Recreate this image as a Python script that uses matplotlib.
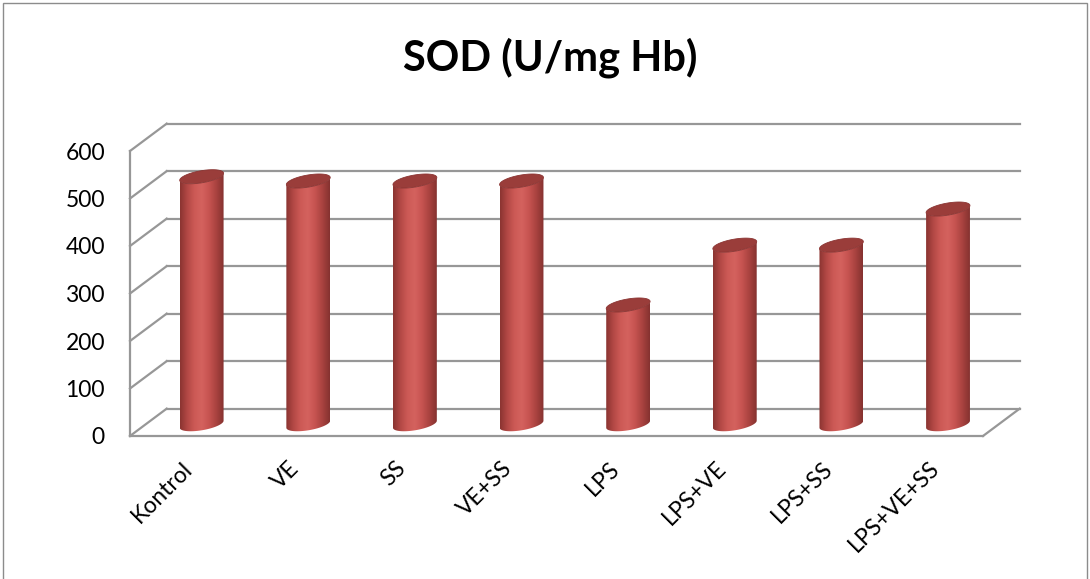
import numpy as np
import matplotlib
matplotlib.use('Agg')
import matplotlib.pyplot as plt
import matplotlib.transforms as mtransforms
from matplotlib.patches import Polygon, Rectangle
from matplotlib.colors import LinearSegmentedColormap

# Data
categories = ['Kontrol', 'VE', 'SS', 'VE+SS', 'LPS', 'LPS+VE', 'LPS+SS', 'LPS+VE+SS']
sod_values = [517, 508, 508, 508, 247, 373, 373, 449]
y_ticks = [0, 100, 200, 300, 400, 500, 600]

# 3D look: depth offset of the back wall (x in category units, y in value units)
DEPTH_X = 0.344
DEPTH_Y = 57.6
CYL_A = 0.178      # half width of the end ellipse along x
CYL_SKEW = 0.103   # x shift of the ellipse's back point
CYL_D = 14.8       # half height of the end ellipse (value units)
GRID_COLOR = '#979797'

plt.rcParams['font.family'] = ['Lato', 'DejaVu Sans']

bar_cmap = LinearSegmentedColormap.from_list(
    'cyl', ['#8a3431', '#b34845', '#cd5a56', '#d4625e', '#c65350', '#a8423f', '#853230'])


def ellipse_pts(xc, v, t):
    x = xc + CYL_A * np.cos(t) + CYL_SKEW * np.sin(t)
    y = v + CYL_D * np.sin(t)
    return np.column_stack([x, y])


def draw_cylinder(ax, xc, base, top):
    t_r = np.arctan2(CYL_SKEW, CYL_A)
    t_l = t_r + np.pi
    t_front = np.linspace(t_l, t_r + 2 * np.pi, 80)
    bottom_arc = ellipse_pts(xc, base, t_front)
    top_arc = ellipse_pts(xc, top, t_front[::-1])
    body = Polygon(np.vstack([bottom_arc, top_arc]), closed=True,
                   facecolor='none', edgecolor='none', transform=ax.transData)
    ax.add_patch(body)

    half = np.hypot(CYL_A, CYL_SKEW)
    grad = np.linspace(0, 1, 200).reshape(1, -1)
    img = ax.imshow(grad, cmap=bar_cmap, aspect='auto', origin='lower',
                    extent=[xc - half, xc + half, base - 2 * CYL_D, top + 2 * CYL_D],
                    interpolation='bilinear', zorder=3)
    img.set_clip_path(body)

    cap = Polygon(ellipse_pts(xc, top, np.linspace(0, 2 * np.pi, 120)), closed=True,
                  facecolor='#9a3d3a', edgecolor='#8a3432', lw=0.6, zorder=4)
    ax.add_patch(cap)


fig = plt.figure(figsize=(10.9, 5.79), dpi=100)
ax = fig.add_axes([130 / 1090, 143 / 579, 853 / 1090, 285 / 579])

n = len(categories)
x_left, x_right = -0.5, n - 0.5

# back wall gridlines and left wall diagonals
for v in y_ticks:
    ax.plot([x_left + DEPTH_X, x_right + DEPTH_X], [v + DEPTH_Y, v + DEPTH_Y],
            color=GRID_COLOR, lw=1.6, clip_on=False, zorder=1)
    ax.plot([x_left, x_left + DEPTH_X], [v, v + DEPTH_Y],
            color=GRID_COLOR, lw=1.6, clip_on=False, zorder=1)

# left axis line and floor edges
ax.plot([x_left, x_left], [0, y_ticks[-1]], color=GRID_COLOR, lw=1.6, clip_on=False, zorder=1)
ax.plot([x_left, x_right], [0, 0], color=GRID_COLOR, lw=1.6, clip_on=False, zorder=1)
ax.plot([x_right, x_right + DEPTH_X], [0, DEPTH_Y], color=GRID_COLOR, lw=1.6,
        clip_on=False, zorder=1)

# cylinders sit halfway into the depth
for i, val in enumerate(sod_values):
    draw_cylinder(ax, i + DEPTH_X / 2, DEPTH_Y / 2 - 4, val + DEPTH_Y / 2)

ax.set_autoscale_on(False)
ax.set_xlim(x_left, x_right)
ax.set_ylim(0, y_ticks[-1])
for s in ax.spines.values():
    s.set_visible(False)
ax.patch.set_visible(False)

ax.set_yticks(y_ticks)
ax.set_yticklabels([str(v) for v in y_ticks], fontsize=16.5)
ax.tick_params(axis='y', length=0, pad=18)

ax.set_xticks(range(n))
ax.set_xticklabels(categories, fontsize=16.5, rotation=45, ha='right', va='center',
                   rotation_mode='anchor')
ax.tick_params(axis='x', length=0, pad=21)
shift = mtransforms.ScaledTranslation(6 / 100, 0, fig.dpi_scale_trans)
for lbl in ax.get_xticklabels():
    lbl.set_transform(lbl.get_transform() + shift)

fig.text(550 / 1090, 1 - 58 / 579, 'SOD (U/mg Hb)', ha='center', va='center',
         fontsize=30, fontweight='bold')

# chart border
fig.add_artist(Rectangle((3 / 1090, -0.05), 1084 / 1090, 1.05 - 3 / 579,
                         transform=fig.transFigure, fill=False,
                         edgecolor='#8c8c8c', lw=1))

fig.savefig('out.png', dpi=100)
